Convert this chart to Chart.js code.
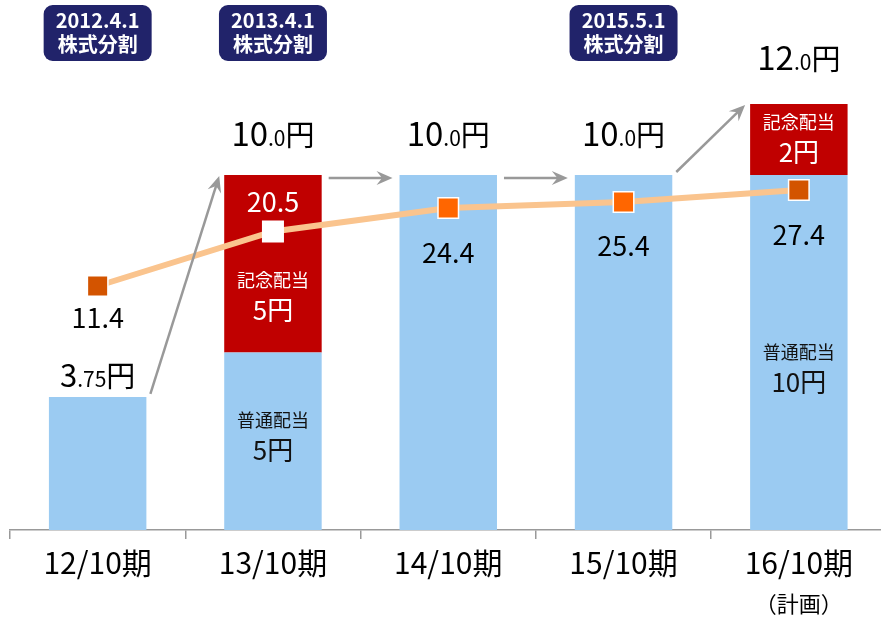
<!DOCTYPE html>
<html lang="ja">
<head>
<meta charset="utf-8">
<script src="https://cdn.jsdelivr.net/npm/chart.js@4.4.1/dist/chart.umd.min.js"></script>
<style>
  html, body { margin: 0; padding: 0; background: #fff; }
</style>
</head>
<body>
<canvas id="grafico" width="881" height="617"></canvas>
<script>
// datos
const periods = ['12/10期', '13/10期', '14/10期', '15/10期', '16/10期'];
const periodNotes = ['', '', '', '', '（計画）'];
const regularDividend = [3.75, 5, 10, 10, 10];
const commemorativeDividend = [null, 5, null, null, 2];
const payoutRatio = [11.4, 20.5, 24.4, 25.4, 27.4];
const splitDates = ['2012.4.1', '2013.4.1', null, '2015.5.1', null];
const splitLabel = '株式分割';
const regularLabel = '普通配当';
const commemorativeLabel = '記念配当';

const FONT = '"Noto Sans CJK JP", "Noto Sans", sans-serif';
const BLUE = '#9BCBF2';
const RED = '#C00000';

/*******************************************************************************/
// helpers

function drawParts(ctx, parts, cx, baseline, color) {
  let total = 0;
  parts.forEach((p) => {
    ctx.font = p[1] + 'px ' + FONT;
    p.w = ctx.measureText(p[0]).width;
    total += p.w;
  });
  let xx = cx - total / 2;
  ctx.fillStyle = color;
  ctx.textAlign = 'left';
  ctx.textBaseline = 'alphabetic';
  parts.forEach((p) => {
    ctx.font = p[1] + 'px ' + FONT;
    ctx.fillText(p[0], xx, baseline);
    xx += p.w;
  });
}

function drawArrow(ctx, x1, y1, x2, y2) {
  const ang = Math.atan2(y2 - y1, x2 - x1);
  const len = 16, wid = 7;
  ctx.save();
  ctx.strokeStyle = '#999999';
  ctx.fillStyle = '#999999';
  ctx.lineWidth = 2.5;
  ctx.beginPath();
  ctx.moveTo(x1, y1);
  ctx.lineTo(x2 - Math.cos(ang) * len * 0.6, y2 - Math.sin(ang) * len * 0.6);
  ctx.stroke();
  ctx.translate(x2, y2);
  ctx.rotate(ang);
  ctx.beginPath();
  ctx.moveTo(0, 0);
  ctx.lineTo(-len, -wid);
  ctx.lineTo(-len * 0.65, 0);
  ctx.lineTo(-len, wid);
  ctx.closePath();
  ctx.fill();
  ctx.restore();
}

function roundBox(ctx, x, y, w, h, r) {
  ctx.beginPath();
  ctx.moveTo(x + r, y);
  ctx.arcTo(x + w, y, x + w, y + h, r);
  ctx.arcTo(x + w, y + h, x, y + h, r);
  ctx.arcTo(x, y + h, x, y, r);
  ctx.arcTo(x, y, x + w, y, r);
  ctx.closePath();
}

/*******************************************************************************/
// el eje x sigue un poco mas alla del borde derecho del canvas

const ejeAncho = {
  id: 'ejeAncho',
  afterLayout(chart) {
    const xs = chart.scales.x;
    xs.right = 886.5;
    xs.width = xs.right - xs.left;
    xs.configure();
  }
};

/*******************************************************************************/
// etiquetas

const etiquetas = {
  id: 'etiquetas',
  afterDatasetsDraw(chart) {
    const ctx = chart.ctx;
    const xs = chart.scales.x;
    const ys = chart.scales.y;
    const y1s = chart.scales.y1;
    const bars = chart.getDatasetMeta(0).data;

    ctx.save();

    // flechas entre barras
    for (let i = 0; i < periods.length - 1; i++) {
      const a = bars[i], b = bars[i + 1];
      const topA = ys.getPixelForValue(regularDividend[i] + (commemorativeDividend[i] || 0));
      const topB = ys.getPixelForValue(regularDividend[i + 1] + (commemorativeDividend[i + 1] || 0));
      const flat = Math.abs(topA - topB) < 1;
      drawArrow(ctx, a.x + a.width / 2 + (flat ? 7 : 4), topA + (flat ? 3 : -3),
        b.x - b.width / 2 - (flat ? 7 : 5), topB + (flat ? 3 : 1));
    }

    // cajas de split
    splitDates.forEach((d, i) => {
      if (!d) return;
      const cx = xs.getPixelForValue(i);
      ctx.fillStyle = '#21236A';
      roundBox(ctx, cx - 54, 5, 108, 56, 9);
      ctx.fill();
      ctx.fillStyle = '#FFFFFF';
      ctx.textAlign = 'center';
      ctx.textBaseline = 'middle';
      ctx.font = 'bold 20px ' + FONT;
      ctx.fillText(d, cx, 20);
      ctx.fillText(splitLabel, cx, 44);
    });

    // totales
    const totalOffsets = [10, 29, 29, 29, 34];
    regularDividend.forEach((v, i) => {
      const total = v + (commemorativeDividend[i] || 0);
      const txt = total.toFixed(total % 1 ? 2 : 1).split('.');
      const big = i === 0 ? 31 : 33;
      drawParts(ctx, [[txt[0], big], ['.' + txt[1], 21], ['円', 29]],
        xs.getPixelForValue(i), ys.getPixelForValue(total) - totalOffsets[i], '#000');
    });

    // textos dentro de las barras
    const drawSeg = (i, bottom, top, name, dy, color) => {
      const cy = (ys.getPixelForValue(bottom) + ys.getPixelForValue(top)) / 2;
      const cx = xs.getPixelForValue(i);
      const amount = top - bottom;
      ctx.fillStyle = color;
      ctx.textAlign = 'center';
      ctx.textBaseline = 'middle';
      ctx.font = '18px ' + FONT;
      ctx.fillText(name, cx, cy + dy);
      ctx.font = '26px ' + FONT;
      ctx.fillText(amount + '円', cx, cy + dy + 30);
    };
    drawSeg(1, 0, regularDividend[1], regularLabel, -21, '#111');
    drawSeg(1, regularDividend[1], regularDividend[1] + commemorativeDividend[1], commemorativeLabel, 16, '#fff');
    drawSeg(4, 0, regularDividend[4], regularLabel, 0, '#111');
    drawSeg(4, regularDividend[4], regularDividend[4] + commemorativeDividend[4], commemorativeLabel, -17, '#fff');

    // valores de la linea
    const ratioOffsets = [42, -19, 55, 54, 55];
    payoutRatio.forEach((v, i) => {
      ctx.font = '27px ' + FONT;
      ctx.textAlign = 'center';
      ctx.textBaseline = 'alphabetic';
      ctx.fillStyle = i === 1 ? '#fff' : '#000';
      ctx.fillText(v.toFixed(1), xs.getPixelForValue(i), y1s.getPixelForValue(v) + ratioOffsets[i]);
    });

    // notas bajo el eje
    periodNotes.forEach((n, i) => {
      if (!n) return;
      ctx.font = '22px ' + FONT;
      ctx.fillStyle = '#000';
      ctx.textAlign = 'center';
      ctx.textBaseline = 'middle';
      ctx.fillText(n, xs.getPixelForValue(i), 604);
    });

    ctx.restore();
  }
};

/*******************************************************************************/
// grafico

const ctx = document.getElementById('grafico').getContext('2d');
new Chart(ctx, {
  type: 'bar',
  data: {
    labels: periods,
    datasets: [
      {
        label: regularLabel,
        data: regularDividend,
        backgroundColor: BLUE,
        stack: 's',
        categoryPercentage: 1,
        barPercentage: 0.556,
        order: 1
      },
      {
        label: commemorativeLabel,
        data: commemorativeDividend,
        backgroundColor: RED,
        stack: 's',
        categoryPercentage: 1,
        barPercentage: 0.556,
        order: 1
      },
      {
        type: 'line',
        label: '配当性向',
        data: payoutRatio,
        yAxisID: 'y1',
        borderColor: '#FAC48E',
        borderWidth: 6,
        pointStyle: 'rect',
        pointRadius: 14.5,
        pointBackgroundColor: ['#D35400', '#FFFFFF', '#FF6600', '#FF6600', '#D35400'],
        pointBorderColor: '#FFFFFF',
        pointBorderWidth: 1.5,
        clip: false,
        order: 0
      }
    ]
  },
  options: {
    responsive: false,
    animation: false,
    devicePixelRatio: 1,
    layout: { autoPadding: false, padding: { left: 10, right: 0, top: 0, bottom: 0 } },
    plugins: { legend: { display: false }, tooltip: { enabled: false } },
    scales: {
      x: {
        stacked: true,
        grid: { offset: true, drawOnChartArea: false, drawTicks: true, tickLength: 9, color: '#999999', lineWidth: 1.5 },
        border: { color: '#999999', width: 1.5 },
        ticks: { color: '#000', font: { family: FONT, size: 30 }, padding: 6, maxRotation: 0, autoSkip: false },
        afterFit(axis) { axis.height = 87; }
      },
      y: { stacked: true, display: false, min: 0, max: 14.93 },
      y1: { display: false, min: -29.27, max: 59.07 }
    }
  },
  plugins: [ejeAncho, etiquetas]
});
</script>
</body>
</html>
